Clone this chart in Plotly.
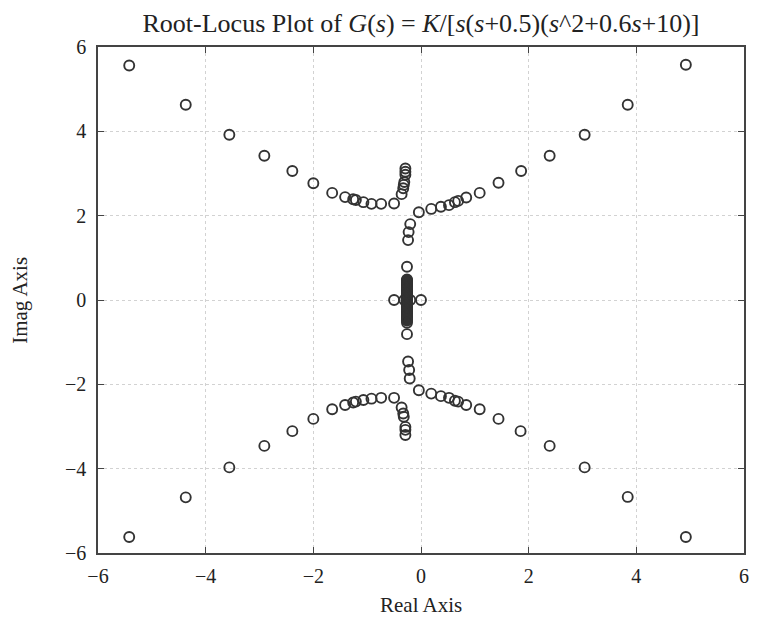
import plotly.graph_objects as go

# Upper half of the locus
upper_left_re = [-5.42, -4.37, -3.56, -2.91, -2.39, -2.00, -1.65, -1.41, -1.26, -1.21, -1.07, -0.92, -0.74, -0.50, -0.36, -0.33, -0.32, -0.31, -0.29, -0.29, -0.29]
upper_left_im = [5.56, 4.63, 3.92, 3.42, 3.06, 2.77, 2.54, 2.44, 2.39, 2.37, 2.32, 2.28, 2.28, 2.29, 2.51, 2.65, 2.73, 2.80, 2.97, 3.04, 3.12]

upper_right_re = [-0.04, 0.19, 0.37, 0.52, 0.63, 0.69, 0.84, 1.09, 1.44, 1.86, 2.39, 3.04, 3.84, 4.92]
upper_right_im = [2.08, 2.16, 2.21, 2.25, 2.32, 2.35, 2.43, 2.54, 2.78, 3.06, 3.42, 3.92, 4.63, 5.58]

# Lower half
lower_left_re = [-5.42, -4.37, -3.56, -2.91, -2.39, -2.00, -1.65, -1.41, -1.26, -1.21, -1.07, -0.92, -0.74, -0.50, -0.36, -0.33, -0.32, -0.29, -0.29, -0.29]
lower_left_im = [-5.62, -4.68, -3.97, -3.46, -3.11, -2.82, -2.59, -2.49, -2.43, -2.41, -2.37, -2.34, -2.32, -2.32, -2.55, -2.69, -2.77, -3.01, -3.08, -3.20]

lower_right_re = [-0.04, 0.19, 0.37, 0.52, 0.63, 0.69, 0.84, 1.09, 1.44, 1.85, 2.39, 3.04, 3.84, 4.92]
lower_right_im = [-2.14, -2.22, -2.28, -2.32, -2.39, -2.41, -2.49, -2.59, -2.82, -3.11, -3.46, -3.97, -4.67, -5.62]

# Branches near the origin: real-axis poles, and the outer points of the two vertical branches
center_re = [-0.50, 0.00, -0.31, -0.20,
             -0.20, -0.23, -0.24, -0.26,
             -0.26, -0.26, -0.24, -0.22, -0.21]
center_im = [0.00, 0.00, 0.00, 0.00,
             1.80, 1.61, 1.42, 0.79,
             -0.54, -0.81, -1.46, -1.66, -1.86]

# Dense cluster of roots right after breakaway (near s = -0.26), drawn as a solid bar in the picture
stack_re = [-0.26] * 50
stack_im = [0.49, 0.47, 0.45, 0.43, 0.41, 0.39, 0.37, 0.35, 0.33, 0.31,
            0.29, 0.27, 0.25, 0.23, 0.21, 0.19, 0.17, 0.15, 0.13, 0.11,
            0.09, 0.07, 0.05, 0.03, 0.01, -0.01, -0.03, -0.05, -0.07, -0.09,
            -0.11, -0.13, -0.15, -0.17, -0.19, -0.21, -0.23, -0.25, -0.27, -0.29,
            -0.31, -0.33, -0.35, -0.37, -0.39, -0.41, -0.43, -0.45, -0.47, -0.49]

re_all = upper_left_re + upper_right_re + lower_left_re + lower_right_re + center_re + stack_re
im_all = upper_left_im + upper_right_im + lower_left_im + lower_right_im + center_im + stack_im

tick_vals = [-6, -4, -2, 0, 2, 4, 6]
tick_text = ["\u22126", "\u22124", "\u22122", "0", "2", "4", "6"]

font_family = "Liberation Serif, Times New Roman, serif"

# The page body has an 8px default margin, so the figure is sized to fit 757x620 after that offset.
FIG_W, FIG_H = 749, 612

fig = go.Figure()
fig.add_trace(go.Scatter(
    x=re_all, y=im_all, mode="markers",
    marker=dict(symbol="circle-open", size=10, color="#333333", line=dict(width=1.9, color="#333333")),
    showlegend=False, hoverinfo="x+y",
))

axis_common = dict(
    range=[-6, 6], tickvals=tick_vals, ticktext=tick_text,
    showgrid=True, gridcolor="#d2d2d2", griddash="dot", gridwidth=1.2,
    zeroline=False, showline=True, linecolor="#444444", linewidth=1.6,
    mirror="ticks", ticks="inside", ticklen=6, tickwidth=1.3, tickcolor="#444444",
    tickfont=dict(family=font_family, size=20, color="#222222"),
    automargin=False,
)

fig.update_layout(
    width=FIG_W, height=FIG_H,
    paper_bgcolor="white", plot_bgcolor="white",
    margin=dict(l=90, r=13, t=39, b=67),
    font=dict(family=font_family, color="#222222"),
    title=dict(
        text="Root-Locus Plot of <i>G</i>(<i>s</i>) = <i>K</i>/[<i>s</i>(<i>s</i>+0.5)(<i>s</i>^2+0.6<i>s</i>+10)]",
        x=413 / FIG_W, xanchor="center", y=1 - 15 / FIG_H, yanchor="middle",
        font=dict(family=font_family, size=26, color="#222222"),
    ),
    xaxis=dict(axis_common, ticklabelstandoff=4),
    yaxis=dict(axis_common, ticklabelstandoff=6),
    annotations=[
        dict(text="Real Axis", xref="paper", yref="paper", x=0.5, y=-0.103,
             xanchor="center", yanchor="middle", showarrow=False,
             font=dict(family=font_family, size=21, color="#222222")),
        dict(text="Imag Axis", xref="paper", yref="paper", x=-0.121, y=0.5,
             xanchor="center", yanchor="middle", showarrow=False, textangle=-90,
             font=dict(family=font_family, size=21, color="#222222")),
    ],
)

fig.write_html("out.html")
